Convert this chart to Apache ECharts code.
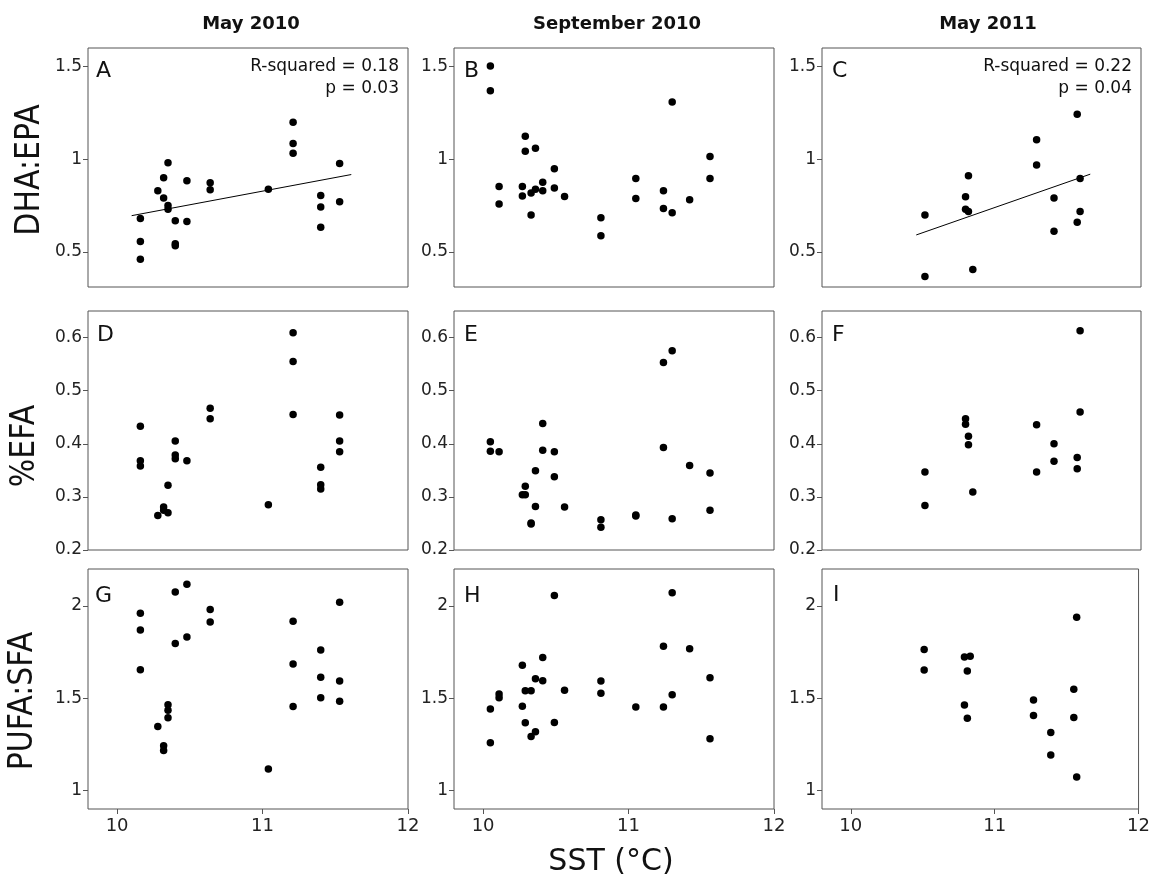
<!DOCTYPE html>
<html><head><meta charset="utf-8">
<script src="https://cdn.jsdelivr.net/npm/echarts@6/dist/echarts.min.js"></script>
<style>html,body{margin:0;padding:0;background:#fff}#c{width:1153px;height:879px}</style>
</head><body><div id="c"></div>
<script>
// ---------- data ----------
const columnTitles = ['May 2010', 'September 2010', 'May 2011'];
const rowNames = ['DHA:EPA', '%EFA', 'PUFA:SFA'];
const xAxisName = 'SST (°C)';
const panelLetters = ['A','B','C','D','E','F','G','H','I'];
const xTicks = [10, 11, 12];
const yTicksRow1 = [0.5, 1, 1.5];
const yTicksRow2 = [0.2, 0.3, 0.4, 0.5, 0.6];
const yTicksRow3 = [1, 1.5, 2];

const panelA = [[10.16,0.68],[10.16,0.555],[10.16,0.46],[10.28,0.83],[10.32,0.90],[10.32,0.79],
  [10.35,0.98],[10.35,0.75],[10.35,0.73],[10.40,0.668],[10.40,0.543],[10.40,0.532],
  [10.48,0.883],[10.48,0.663],[10.64,0.873],[10.64,0.835],[11.04,0.837],
  [11.21,1.199],[11.21,1.084],[11.21,1.032],[11.40,0.804],[11.40,0.742],[11.40,0.632],
  [11.53,0.976],[11.53,0.77]];
const panelB = [[10.05,1.503],[10.05,1.369],[10.11,0.853],[10.11,0.758],[10.27,0.853],[10.27,0.801],
  [10.29,1.124],[10.29,1.043],[10.33,0.817],[10.33,0.699],[10.36,1.059],[10.36,0.837],
  [10.41,0.876],[10.41,0.830],[10.49,0.948],[10.49,0.844],[10.56,0.799],
  [10.81,0.684],[10.81,0.586],[11.05,0.896],[11.05,0.788],[11.24,0.830],[11.24,0.734],
  [11.30,1.308],[11.30,0.711],[11.42,0.781],[11.56,1.014],[11.56,0.896]];
const panelC = [[10.51,0.699],[10.51,0.366],[10.79,0.797],[10.79,0.729],[10.81,0.910],[10.81,0.718],
  [10.84,0.405],[11.28,1.105],[11.28,0.969],[11.40,0.790],[11.40,0.611],
  [11.56,1.242],[11.56,0.659],[11.58,0.896],[11.58,0.717]];
const panelD = [[10.16,0.433],[10.16,0.368],[10.16,0.358],[10.28,0.265],[10.32,0.281],[10.32,0.275],
  [10.35,0.322],[10.35,0.270],[10.40,0.405],[10.40,0.379],[10.40,0.372],[10.48,0.368],
  [10.64,0.467],[10.64,0.447],[11.04,0.285],[11.21,0.609],[11.21,0.555],[11.21,0.455],
  [11.40,0.356],[11.40,0.323],[11.40,0.315],[11.53,0.454],[11.53,0.405],[11.53,0.385]];
const panelE = [[10.05,0.404],[10.05,0.386],[10.11,0.385],[10.27,0.304],[10.29,0.320],[10.29,0.304],
  [10.33,0.251],[10.33,0.249],[10.36,0.349],[10.36,0.282],[10.41,0.438],[10.41,0.388],
  [10.49,0.385],[10.49,0.338],[10.56,0.281],[10.81,0.257],[10.81,0.243],
  [11.05,0.266],[11.05,0.264],[11.24,0.553],[11.24,0.393],[11.30,0.575],[11.30,0.259],
  [11.42,0.359],[11.56,0.345],[11.56,0.275]];
const panelF = [[10.51,0.347],[10.51,0.284],[10.79,0.447],[10.79,0.437],[10.81,0.414],[10.81,0.398],
  [10.84,0.309],[11.28,0.436],[11.28,0.347],[11.40,0.400],[11.40,0.367],
  [11.56,0.374],[11.56,0.353],[11.58,0.613],[11.58,0.460]];
const panelG = [[10.16,1.96],[10.16,1.87],[10.16,1.654],[10.28,1.347],[10.32,1.243],[10.32,1.217],
  [10.35,1.465],[10.35,1.435],[10.35,1.394],[10.40,2.075],[10.40,1.797],[10.48,2.118],[10.48,1.831],
  [10.64,1.98],[10.64,1.913],[11.04,1.117],[11.21,1.917],[11.21,1.685],[11.21,1.455],
  [11.40,1.761],[11.40,1.613],[11.40,1.502],[11.53,2.02],[11.53,1.593],[11.53,1.484]];
const panelH = [[10.05,1.442],[10.05,1.259],[10.11,1.523],[10.11,1.503],[10.27,1.678],[10.27,1.457],
  [10.29,1.541],[10.29,1.367],[10.33,1.541],[10.33,1.293],[10.36,1.606],[10.36,1.318],
  [10.41,1.721],[10.41,1.595],[10.49,2.056],[10.49,1.368],[10.56,1.543],
  [10.81,1.593],[10.81,1.527],[11.05,1.453],[11.24,1.782],[11.24,1.453],
  [11.30,2.072],[11.30,1.519],[11.42,1.768],[11.56,1.611],[11.56,1.28]];
const panelI = [[10.51,1.764],[10.51,1.653],[10.79,1.723],[10.79,1.464],[10.81,1.647],[10.81,1.392],
  [10.83,1.728],[11.27,1.491],[11.27,1.406],[11.39,1.314],[11.39,1.192],
  [11.55,1.549],[11.55,1.395],[11.57,1.939],[11.57,1.074]];

const fitA = [[10.10,0.695],[11.61,0.917]];
const fitC = [[10.45,0.591],[11.65,0.919]];
const statsA = ['R-squared = 0.18', 'p = 0.03'];
const statsC = ['R-squared = 0.22', 'p = 0.04'];

// ---------- layout ----------
const FONT = '"DejaVu Sans", sans-serif';
const colLeft = [88, 454, 822], colWidth = [320, 320, 319];
const rowTop = [48, 311, 569], rowHeight = [239, 239, 240];
const yRange = [[0.31, 1.6], [0.2, 0.65], [0.9, 2.2]];
const yTicks = [yTicksRow1, yTicksRow2, yTicksRow3];
const panels = [panelA, panelB, panelC, panelD, panelE, panelF, panelG, panelH, panelI];
const fits = {0: fitA, 2: fitC};
const stats = {0: statsA, 2: statsC};

const grid = [], xAxis = [], yAxis = [], series = [], graphic = [];
for (let r = 0; r < 3; r++) {
  for (let c = 0; c < 3; c++) {
    const i = r * 3 + c;
    grid.push({left: colLeft[c], top: rowTop[r], width: colWidth[c], height: rowHeight[r],
      show: true, borderColor: '#555', borderWidth: 1, backgroundColor: 'transparent'});
    xAxis.push({gridIndex: i, type: 'value', min: 9.8, max: 12,
      axisLine: {show: false}, splitLine: {show: false},
      axisTick: {show: r === 2, length: 5, lineStyle: {color: '#555'}, customValues: xTicks},
      axisLabel: {show: r === 2, customValues: xTicks, fontSize: 18, color: '#222', fontFamily: FONT, margin: 8}});
    yAxis.push({gridIndex: i, type: 'value', min: yRange[r][0], max: yRange[r][1],
      axisLine: {show: false}, splitLine: {show: false},
      axisTick: {show: true, length: 5, lineStyle: {color: '#555'}, customValues: yTicks[r]},
      axisLabel: {customValues: yTicks[r], fontSize: 17, color: '#222', fontFamily: FONT, margin: 6}});
    series.push({type: 'scatter', xAxisIndex: i, yAxisIndex: i, data: panels[i],
      symbol: 'circle', symbolSize: 7.5, itemStyle: {color: '#000', opacity: 1}, silent: true});
    if (fits[i]) {
      series.push({type: 'line', xAxisIndex: i, yAxisIndex: i, data: fits[i],
        symbol: 'none', lineStyle: {color: '#000', width: 1}, silent: true, z: 1});
    }
  }
}

function txt(x, y, text, font, align, extra) {
  return Object.assign({type: 'text', x: x, y: y, silent: true,
    style: {text: text, font: font, fill: '#111', align: align, verticalAlign: 'middle',
            textAlign: align, textVerticalAlign: 'middle'}}, extra || {});
}
// column titles
const titleX = [251, 617, 988];
columnTitles.forEach((t, c) => graphic.push(txt(titleX[c], 24, t, 'bold 18px ' + FONT, 'center')));
// panel letters
const letterPos = [[96,71],[464,71],[832,71],[97,335],[464,335],[832,335],[95,596],[464,596],[833,595]];
panelLetters.forEach((l, i) => graphic.push(txt(letterPos[i][0], letterPos[i][1], l, '22px ' + FONT, 'left')));
// stats
const statsRight = {0: 399, 2: 1132};
Object.keys(stats).forEach(k => {
  graphic.push(txt(statsRight[k], 67, stats[k][0], '17px ' + FONT, 'right'));
  graphic.push(txt(statsRight[k], 89, stats[k][1], '17px ' + FONT, 'right'));
});
// row names (rotated)
const rowNamePos = [[30,170],[25,446],[23,701]];
rowNames.forEach((n, r) => graphic.push(txt(rowNamePos[r][0], rowNamePos[r][1], n, '30px ' + FONT, 'center',
  {rotation: Math.PI / 2, scaleY: 1.12})));
// x axis name
graphic.push(txt(611, 862, xAxisName, '30px ' + FONT, 'center'));

const chart = echarts.init(document.getElementById('c'), null, {renderer: 'canvas'});
chart.setOption({animation: false, backgroundColor: '#fff', grid, xAxis, yAxis, series, graphic});
</script></body></html>
